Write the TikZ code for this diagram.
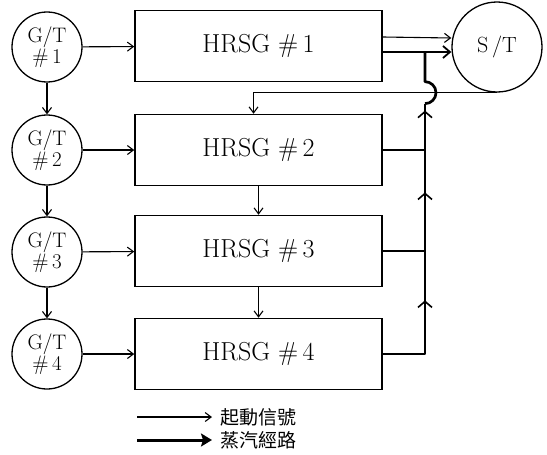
\documentclass[tikz,border=0pt]{standalone}
\usepackage{fontspec}
\newfontfamily\cjk{Noto Sans CJK TC}
\usetikzlibrary{arrows.meta,decorations.markings}
\begin{document}
\begin{tikzpicture}[x=1pt,y=1pt,
  box/.style={draw,line width=1.5pt,minimum width=247pt,minimum height=71pt,inner sep=0pt,
    font=\fontsize{26}{30}\selectfont\addfontfeature{LetterSpace=12}},
  gt/.style={draw,circle,line width=1.3pt,minimum size=70pt,inner sep=0pt,align=center,
    font=\fontsize{21}{19}\selectfont\addfontfeature{LetterSpace=8}},
  sig/.style={line width=1.1pt,-{Straight Barb[length=6pt,width=9pt]}},
  steam/.style={line width=2.7pt,line join=round},
  steamarrow/.style={steam,-{Straight Barb[length=7pt,width=12pt,line width=1.8pt]}},
  midarrow/.style={postaction={decorate},decoration={markings,
    mark=at position #1 with {\arrow{Straight Barb[length=6pt,width=14pt,line width=1.6pt]}}}},
  midarrow/.default=0.5,
  legend/.style={anchor=west,inner sep=0pt,font=\cjk\fontsize{19}{20}\selectfont}
]
\useasboundingbox (0,0) rectangle (547,-455);

% gas turbines
\node[gt] (gt1) at (47,-47) {G/T\\\#\,1};
\node[gt] (gt2) at (47,-150) {G/T\\\#\,2};
\node[gt] (gt3) at (47,-252) {G/T\\\#\,3};
\node[gt] (gt4) at (47,-354) {G/T\\\#\,4};

% HRSG boxes
\node[box] (h1) at (258.5,-46) {HRSG\ \#\,1};
\node[box] (h2) at (258.5,-150) {HRSG\ \#\,2};
\node[box] (h3) at (258.5,-251) {HRSG\ \#\,3};
\node[box] (h4) at (258.5,-354) {HRSG\ \#\,4};

% steam turbine
\node[draw,circle,line width=1.3pt,minimum size=90pt,inner sep=0pt,font=\fontsize{22}{24}\selectfont] (st) at (497,-47) {S\,/T};

% start signals
\draw[sig] (gt1) -- (gt2);
\draw[sig] (gt2) -- (gt3);
\draw[sig] (gt3) -- (gt4);
\draw[sig] (gt1) -- (h1);
\draw[sig] (gt2) -- (h2);
\draw[sig] (gt3) -- (h3);
\draw[sig] (gt4) -- (h4);
\draw[sig] (h2) -- (h3);
\draw[sig] (h3) -- (h4);
\draw[sig] ([yshift=9pt]h1.east) -- ([yshift=9pt]st.west);
\coordinate (tx) at ([xshift=-5pt]h2.north);
\draw[sig] (st.south) -| (tx);

% steam path
\coordinate (busx) at (425,0);
\coordinate (o1) at ([yshift=-6pt]h1.east);
\coordinate (jt) at (o1 -| busx);
\coordinate (c2) at (h2.east -| busx);
\coordinate (c3) at (h3.east -| busx);
\coordinate (c4) at (h4.east -| busx);
\coordinate (hc) at (busx |- st.south);
\coordinate (hb) at ([yshift=-11pt]hc);
\draw[steamarrow] (o1) -- (o1 -| st.west);
\draw[steam,midarrow=0.66] (h4.east) -- (c4) -- (c3);
\draw[steam] (h3.east) -- (c3);
\draw[steam,midarrow=0.58] (c3) -- (c2);
\draw[steam] (h2.east) -- (c2);
\draw[steam,midarrow=0.85] (c2) -- (hb);
\draw[steam] (hb) arc[start angle=-90,end angle=90,radius=11] -- (jt);

% legend
\node[legend] (lt1) at (220,-417) {起動信號};
\node[legend] (lt2) at (220,-440) {蒸汽經路};
\coordinate (la1) at (137,-417);
\coordinate (la2) at (137,-440);
\draw[sig] (la1) -- ([xshift=-8pt]lt1.west);
\draw[line width=3pt,-{Stealth[length=11pt,width=13pt,inset=2pt]}] (la2) -- ([xshift=-8pt]lt2.west);
\end{tikzpicture}
\end{document}
